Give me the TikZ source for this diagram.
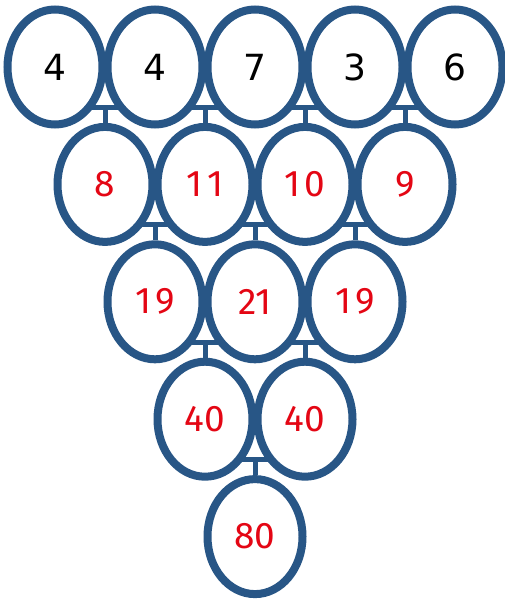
\documentclass[tikz,border=0pt]{standalone}
\usepackage{fontspec}
\setmainfont{DejaVu Sans}
\newfontfamily\redfont{Fira Sans}
\usetikzlibrary{shapes.geometric,backgrounds}
\definecolor{bblue}{RGB}{40,86,134}
\definecolor{dred}{RGB}{228,6,20}
\newcommand{\wone}{\kern0.12em}
\tikzset{
  bub/.style={ellipse, draw=bblue, line width=8pt, fill=white,
    minimum width=95pt, minimum height=115pt, inner sep=0pt},
  given/.style={bub, font=\fontsize{36}{36}\selectfont, text=black},
  sum/.style={bub, font=\redfont\fontsize{37}{37}\selectfont, text=dred},
  link/.style={draw=bblue, line width=5pt},
}
\begin{document}
\begin{tikzpicture}[x=1pt,y=-1pt]
\useasboundingbox (0,0) rectangle (504,599);
% row 1
\node[given] (a1) at (55,67) {4};
\node[given] (a2) at (155,67) {4};
\node[given] (a3) at (255,67) {7};
\node[given] (a4) at (355,67) {3};
\node[given] (a5) at (455,67) {6};
% row 2
\node[sum] (b1) at (105,184.4) {8};
\node[sum] (b2) at (205,184.4) {1\wone1};
\node[sum] (b3) at (305,184.4) {1\wone0};
\node[sum] (b4) at (405,184.4) {9};
% row 3
\node[sum] (c1) at (155,301.8) {1\wone9};
\node[sum] (c2) at (255,301.8) {21};
\node[sum] (c3) at (355,301.8) {1\wone9};
% row 4
\node[sum] (d1) at (205,419.2) {40};
\node[sum] (d2) at (305,419.2) {40};
% row 5
\node[sum] (e1) at (255,536.6) {80};
% junction points
\coordinate (ja1) at (105,107.5);
\coordinate (ja2) at (205,107.5);
\coordinate (ja3) at (305,107.5);
\coordinate (ja4) at (405,107.5);
\coordinate (jb1) at (155,224.9);
\coordinate (jb2) at (255,224.9);
\coordinate (jb3) at (355,224.9);
\coordinate (jc1) at (205,342.3);
\coordinate (jc2) at (305,342.3);
\coordinate (jd1) at (255,459.7);
\begin{scope}[on background layer]
  \foreach \j/\n in {ja1/b1,ja2/b2,ja3/b3,ja4/b4,jb1/c1,jb2/c2,jb3/c3,jc1/d1,jc2/d2,jd1/e1}{
    \draw[link] (\j) ++(-24,0) -- ++(48,0);
    \draw[link] (\j) -- (\n.north);
  }
\end{scope}
\end{tikzpicture}
\end{document}
